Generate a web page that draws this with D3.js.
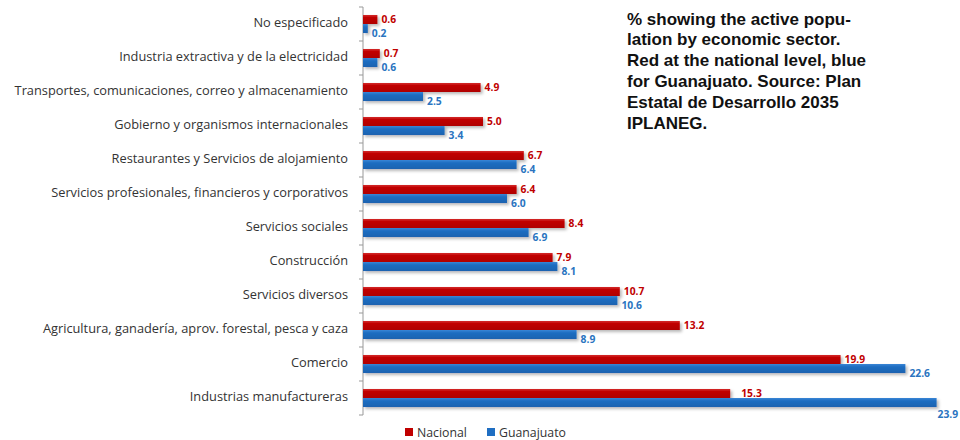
<!DOCTYPE html>
<html><head><meta charset="utf-8">
<script src="https://cdn.jsdelivr.net/npm/d3@7"></script>
<style>
body{margin:0;background:#fff;}
svg{display:block;}
</style></head>
<body>
<svg id="c" width="960" height="440"></svg>
<script>
const categories = [
  "No especificado",
  "Industria extractiva y de la electricidad",
  "Transportes, comunicaciones, correo y almacenamiento",
  "Gobierno y organismos internacionales",
  "Restaurantes y Servicios de alojamiento",
  "Servicios profesionales, financieros y corporativos",
  "Servicios sociales",
  "Construcción",
  "Servicios diversos",
  "Agricultura, ganadería, aprov. forestal, pesca y caza",
  "Comercio",
  "Industrias manufactureras"
];
const nacional   = [0.6, 0.7, 4.9, 5.0, 6.7, 6.4, 8.4, 7.9, 10.7, 13.2, 19.9, 15.3];
const guanajuato = [0.2, 0.6, 2.5, 3.4, 6.4, 6.0, 6.9, 8.1, 10.6, 8.9, 22.6, 23.9];
const seriesNames = ["Nacional", "Guanajuato"];
const noteLines = [
  "% showing the active popu-",
  "lation by economic sector.",
  "Red at the national level, blue",
  "for Guanajuato. Source: Plan",
  "Estatal de Desarrollo 2035",
  "IPLANEG."
];

const W = 960, H = 440;
const red = "#c00000", blue = "#1f6ec2";
const redText = "#c00000", blueText = "#2a74c0";
const svg = d3.select("#c");

const defs = svg.append("defs");
const f = defs.append("filter").attr("id","sh").attr("x","-5%").attr("y","-30%").attr("width","115%").attr("height","190%");
f.append("feDropShadow").attr("dx",2).attr("dy",2).attr("stdDeviation",1.4).attr("flood-color","#000").attr("flood-opacity",0.28);
const gR = defs.append("linearGradient").attr("id","gr").attr("x1",0).attr("y1",0).attr("x2",0).attr("y2",1);
gR.append("stop").attr("offset","0%").attr("stop-color","#d42a2a");
gR.append("stop").attr("offset","30%").attr("stop-color",red);
gR.append("stop").attr("offset","100%").attr("stop-color","#b00000");
const gB = defs.append("linearGradient").attr("id","gb").attr("x1",0).attr("y1",0).attr("x2",0).attr("y2",1);
gB.append("stop").attr("offset","0%").attr("stop-color","#3a86d6");
gB.append("stop").attr("offset","30%").attr("stop-color",blue);
gB.append("stop").attr("offset","100%").attr("stop-color","#1a62b0");

const x = d3.scaleLinear().domain([0, 24]).range([363, 939]);
const y = d3.scaleBand().domain(categories).range([7, 415]).paddingInner(0.47).paddingOuter(0.235);
const step = y.step();
const bh = y.bandwidth() / 2;

// axis line + boundary ticks
const axisG = svg.append("g");
axisG.append("line").attr("x1", x(0)).attr("x2", x(0)).attr("y1", y.range()[0]).attr("y2", y.range()[1])
  .attr("stroke", "#999").attr("stroke-width", 1);
const bounds = d3.range(categories.length + 1).map(i => y.range()[0] + i * step);
axisG.selectAll("line.tk").data(bounds).join("line").attr("class","tk")
  .attr("x1", x(0) - 4).attr("x2", x(0)).attr("y1", d => d).attr("y2", d => d)
  .attr("stroke", "#999");

// category labels
svg.append("g").selectAll("text").data(categories).join("text")
  .attr("x", x(0) - 15).attr("y", d => y(d) + y.bandwidth()/2)
  .attr("text-anchor", "end").attr("dominant-baseline", "middle")
  .attr("font-family", "'Open Sans', sans-serif").attr("font-size", 12.8)
  .attr("fill", "#333").text(d => d);

// bars
const data = categories.map((c, i) => ({c, n: nacional[i], g: guanajuato[i]}));
const bars = svg.append("g").attr("filter", "url(#sh)");
bars.selectAll("rect.n").data(data).join("rect").attr("class","n")
  .attr("x", x(0)).attr("y", d => y(d.c)).attr("width", d => x(d.n) - x(0)).attr("height", bh)
  .attr("fill", "url(#gr)");
bars.selectAll("rect.g").data(data).join("rect").attr("class","g")
  .attr("x", x(0)).attr("y", d => y(d.c) + bh).attr("width", d => x(d.g) - x(0)).attr("height", bh)
  .attr("fill", "url(#gb)");

// value labels
const lab = svg.append("g").attr("font-family", "'Open Sans', sans-serif").attr("font-size", 10.3).attr("font-weight", "bold");
lab.selectAll("text.n").data(data).join("text").attr("class","n")
  .attr("x", d => x(d.n) + (d.g - d.n > 5 ? 11 : 4)).attr("y", d => y(d.c) + bh/2 + 3.2)
  .attr("fill", redText).text(d => d.n.toFixed(1));
lab.selectAll("text.g").data(data).join("text").attr("class","g")
  .attr("x", d => x(d.g) + (x(d.g) + 24 > W ? 1 : 4))
  .attr("y", d => y(d.c) + bh + bh/2 + (x(d.g) + 24 > W ? 15 : 8))
  .attr("fill", blueText).text(d => d.g.toFixed(1));

// legend
const lg = svg.append("g").attr("font-family", "'Open Sans', sans-serif").attr("font-size", 12.3).attr("fill", "#333");
const legX = [405, 487];
seriesNames.forEach((s, i) => {
  lg.append("rect").attr("x", legX[i]).attr("y", 428).attr("width", 8).attr("height", 8).attr("fill", i === 0 ? red : blue);
  lg.append("text").attr("x", legX[i] + 12).attr("y", 437).text(s);
});

// note
const nt = svg.append("text").attr("font-family", "'Liberation Sans', Arial, sans-serif").attr("font-size", 17)
  .attr("font-weight", "bold").attr("fill", "#111");
noteLines.forEach((l, i) => {
  nt.append("tspan").attr("x", 627).attr("y", 24.5 + i * 20.8).text(l);
});
</script>
</body></html>
